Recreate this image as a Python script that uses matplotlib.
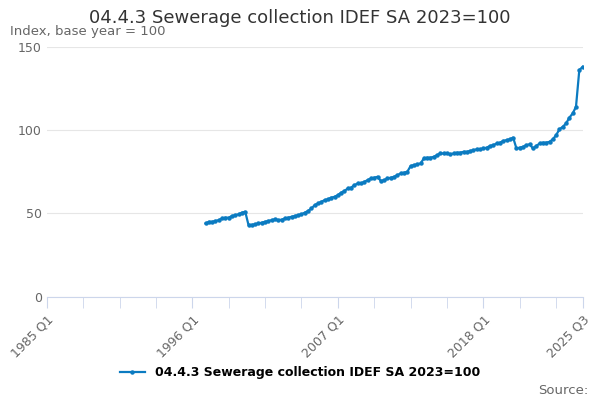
import numpy as np
import matplotlib.pyplot as plt

# quarterly index values, 1997 Q1 .. 2025 Q3
values = [
    44, 45, 45, 45.5,
    46, 47, 47.5, 47.5,
    48.5, 49, 49.5, 50.5,
    51, 43, 43.2, 43.5,
    44, 44.5, 45, 45.5,
    46, 46.5, 46, 46.3,
    47, 47.5, 48, 48.5,
    49, 49.5, 50.5, 51.5,
    53, 55, 56, 57,
    58, 58.5, 59.5, 60,
    61, 62.5, 63.5, 65,
    65.5, 67, 68, 68,
    69, 70, 71, 71.5,
    72, 69.5, 70, 71,
    71.5, 72, 73, 74,
    74.5, 75, 78.5, 79,
    79.5, 80, 83, 83.5,
    83.5, 84, 85, 86,
    86, 86, 85.5, 86,
    86.5, 86.5, 87, 87,
    87.5, 88, 88.5, 88.5,
    89, 89.5, 90.5, 91,
    92, 92.5, 93.5, 94,
    94.5, 95.5, 89, 89.5,
    90, 91, 91.5, 89,
    90.5, 92, 92.5, 92.5,
    93, 94.5, 97, 100.5,
    102, 104, 107.5, 110,
    114, 136, 138,
]

quarters = [f"{y} Q{q}" for y in range(1985, 2026) for q in range(1, 5)][:163]
start = quarters.index("1997 Q1")
x = np.arange(start, start + len(values))

tick_labels = ["1985 Q1", "1996 Q1", "2007 Q1", "2018 Q1", "2025 Q3"]
tick_pos = [quarters.index(t) for t in tick_labels]

color = "#0b7bc1"
fig = plt.figure(figsize=(6, 4), dpi=100)
ax = fig.add_axes([0.078, 0.258, 0.893, 0.625])
ax.plot(x, values, color=color, lw=1.6, marker="o", ms=2.2, label="04.4.3 Sewerage collection IDEF SA 2023=100")
ax.set_xlim(0, len(quarters) - 1)
ax.set_ylim(0, 150)
ax.set_yticks([0, 50, 100, 150])
ax.set_xticks(tick_pos)
ax.set_xticklabels(tick_labels, rotation=45, ha="right", rotation_mode="anchor")
ax.set_xticks(np.arange(0, 163, 11), minor=True)
ax.grid(axis="y", color="#e6e6e6", lw=0.8)
ax.set_axisbelow(True)
for s in ["top", "right", "left"]:
    ax.spines[s].set_visible(False)
ax.spines["bottom"].set_color("#ccd6eb")
ax.tick_params(axis="y", length=0, labelsize=9, colors="#666666")
ax.tick_params(axis="x", which="both", length=8, color="#ccd6eb", labelsize=9, labelcolor="#666666")

fig.text(0.5, 0.955, "04.4.3 Sewerage collection IDEF SA 2023=100", ha="center", va="center", fontsize=13, color="#333333")
fig.text(0.017, 0.92, "Index, base year = 100", ha="left", va="center", fontsize=9.5, color="#666666")
fig.legend(loc="center", bbox_to_anchor=(0.5, 0.068), frameon=False,
           prop={"weight": "bold", "size": 9}, handlelength=2)
fig.text(0.98, 0.025, "Source:", ha="right", va="center", fontsize=9.5, color="#666666")
fig.savefig("out.png")
